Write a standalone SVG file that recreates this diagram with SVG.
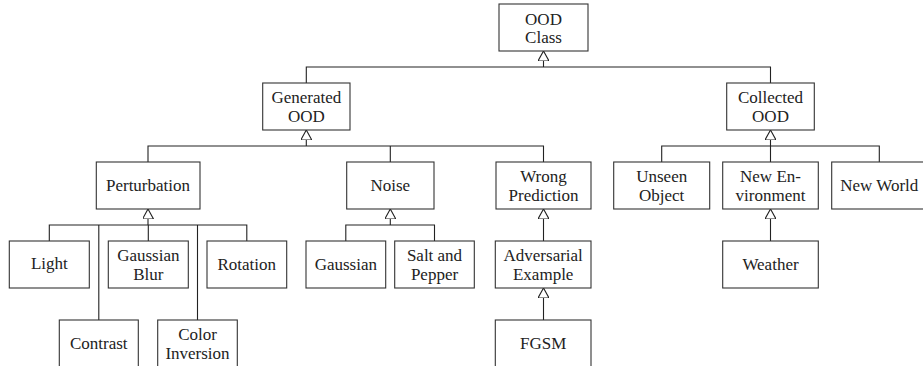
<svg xmlns="http://www.w3.org/2000/svg" width="923" height="366" viewBox="0 0 923 366">
<style>
.n{fill:#fff;stroke:#333;stroke-width:1.1}
.t text{font-size:17px;fill:#222;text-anchor:middle}
.c{fill:none;stroke:#222;stroke-width:1.1}
</style>
<defs>
<marker id="tri" viewBox="0 0 10 11" refX="10" refY="5.5" markerWidth="10" markerHeight="11" markerUnits="userSpaceOnUse" orient="auto">
<path d="M0,0 L10,5.5 L0,11 Z" fill="#fff" stroke="#222" stroke-width="1.1"/>
</marker>
</defs>
<rect width="923" height="366" fill="#fff"/>
<g id="connectors">
<path class="c" d="M306.3,83 V67 H770.5 V83"/>
<path class="c" d="M543.5,67 V51" marker-end="url(#tri)"/>
<path class="c" d="M148,162 V146 H543.5 V162 M390.3,146 V162"/>
<path class="c" d="M306.3,146 V130" marker-end="url(#tri)"/>
<path class="c" d="M661.7,162 V146 H879.3 V162 M770.5,146 V162"/>
<path class="c" d="M770.5,146 V130" marker-end="url(#tri)"/>
<path class="c" d="M49.3,241 V225 H246.8 V241 M98.8,225 V320 M148.3,225 V241 M197.5,225 V320"/>
<path class="c" d="M148,225 V209" marker-end="url(#tri)"/>
<path class="c" d="M345.8,241 V225 H434.5 V241"/>
<path class="c" d="M390.3,225 V209" marker-end="url(#tri)"/>
<path class="c" d="M543.5,241 V209" marker-end="url(#tri)"/>
<path class="c" d="M543.5,320 V288" marker-end="url(#tri)"/>
<path class="c" d="M770.5,241 V209" marker-end="url(#tri)"/>
</g>
<g class="t" font-family="Liberation Serif, Times New Roman, serif">
<g id="ood-class"><rect class="n" x="499" y="4" width="89" height="47"/><text x="543.5" y="24.5">OOD</text><text x="543.5" y="43">Class</text></g>
<g id="generated-ood"><rect class="n" x="262.7" y="83" width="87.3" height="47"/><text x="306.3" y="103">Generated</text><text x="306.3" y="121.5">OOD</text></g>
<g id="collected-ood"><rect class="n" x="726.7" y="83" width="87.6" height="47"/><text x="770.5" y="103">Collected</text><text x="770.5" y="121.5">OOD</text></g>
<g id="perturbation"><rect class="n" x="96.3" y="162" width="103.7" height="47"/><text x="148" y="191">Perturbation</text></g>
<g id="noise"><rect class="n" x="346.7" y="162" width="87.3" height="47"/><text x="390.3" y="191">Noise</text></g>
<g id="wrong-prediction"><rect class="n" x="496" y="162" width="95" height="47"/><text x="543.5" y="182">Wrong</text><text x="543.5" y="200.5">Prediction</text></g>
<g id="unseen-object"><rect class="n" x="613.7" y="162" width="96" height="47"/><text x="661.7" y="182">Unseen</text><text x="661.7" y="200.5">Object</text></g>
<g id="new-environment"><rect class="n" x="722.7" y="162" width="95.6" height="47"/><text x="770.5" y="182">New En-</text><text x="770.5" y="200.5">vironment</text></g>
<g id="new-world"><rect class="n" x="831.7" y="162" width="95.3" height="47"/><text x="879.3" y="191">New World</text></g>
<g id="light"><rect class="n" x="9.3" y="241" width="80" height="47"/><text x="49.3" y="268.7">Light</text></g>
<g id="gaussian-blur"><rect class="n" x="108.3" y="241" width="80" height="47"/><text x="148.3" y="261">Gaussian</text><text x="148.3" y="279.5">Blur</text></g>
<g id="rotation"><rect class="n" x="207" y="241" width="79.7" height="47"/><text x="246.8" y="269.5">Rotation</text></g>
<g id="gaussian"><rect class="n" x="306" y="241" width="79.7" height="47"/><text x="345.8" y="269.5">Gaussian</text></g>
<g id="salt-and-pepper"><rect class="n" x="394.7" y="241" width="79.6" height="47"/><text x="434.5" y="261">Salt and</text><text x="434.5" y="279.5">Pepper</text></g>
<g id="adversarial-example"><rect class="n" x="495.3" y="241" width="95.7" height="47"/><text x="543.2" y="261">Adversarial</text><text x="543.2" y="279.5">Example</text></g>
<g id="weather"><rect class="n" x="722.7" y="241" width="95.6" height="47"/><text x="770.5" y="269.5">Weather</text></g>
<g id="contrast"><rect class="n" x="59.3" y="320" width="79" height="47"/><text x="98.8" y="348.5">Contrast</text></g>
<g id="color-inversion"><rect class="n" x="157.7" y="320" width="79.6" height="47"/><text x="197.5" y="340">Color</text><text x="197.5" y="358.5">Inversion</text></g>
<g id="fgsm"><rect class="n" x="495.3" y="320" width="95.7" height="47"/><text x="543.2" y="348.5">FGSM</text></g>
</g>
</svg>
